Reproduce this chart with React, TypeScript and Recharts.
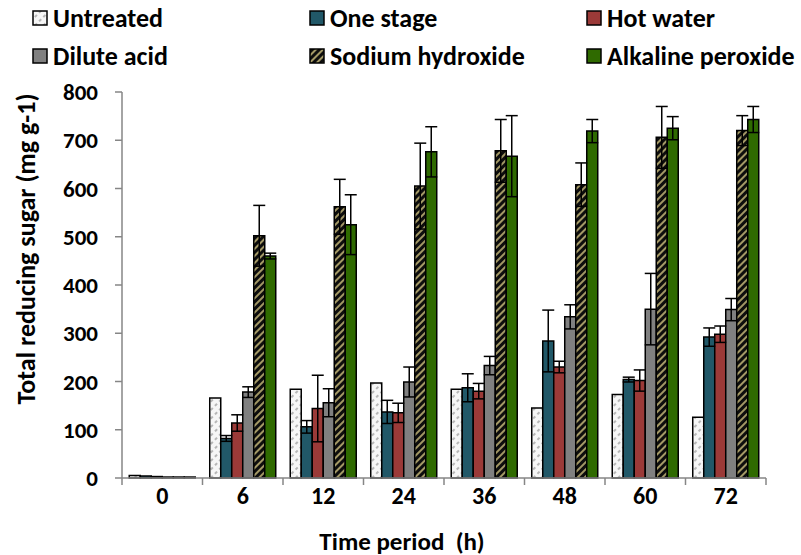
import { BarChart, Bar, XAxis, YAxis, ErrorBar } from "recharts";

const FONT = "Carlito, Calibri, Lato, sans-serif";

const CATEGORIES = ["0", "6", "12", "24", "36", "48", "60", "72"];
const Y_TICKS = [0, 100, 200, 300, 400, 500, 600, 700, 800];

const UNTREATED = [5, 166, 184, 197, 184, 145, 173, 126];
const ONE_STAGE = [4, 82, 106, 137, 187, 284, 204, 292];
const HOT_WATER = [3, 114, 144, 135, 180, 230, 202, 298];
const DILUTE_ACID = [2, 178, 156, 199, 233, 334, 350, 349];
const SODIUM_HYDROXIDE = [2, 502, 562, 605, 678, 608, 706, 720];
const ALKALINE_PEROXIDE = [2, 460, 525, 676, 667, 719, 725, 743];

const ONE_STAGE_ERR = [0, 6, 13, 24, 29, 64, 5, 19];
const HOT_WATER_ERR = [0, 17, 69, 20, 16, 12, 22, 17];
const DILUTE_ACID_ERR = [0, 11, 29, 31, 19, 25, 74, 23];
const SODIUM_HYDROXIDE_ERR = [0, 63, 57, 89, 65, 45, 64, 31];
const ALKALINE_PEROXIDE_ERR = [0, 6, 62, 52, 84, 24, 24, 27];

const data = CATEGORIES.map((time, i) => ({
  time,
  untreated: UNTREATED[i],
  oneStage: ONE_STAGE[i],
  oneStageErr: ONE_STAGE_ERR[i],
  hotWater: HOT_WATER[i],
  hotWaterErr: HOT_WATER_ERR[i],
  diluteAcid: DILUTE_ACID[i],
  diluteAcidErr: DILUTE_ACID_ERR[i],
  naoh: SODIUM_HYDROXIDE[i],
  naohErr: SODIUM_HYDROXIDE_ERR[i],
  ap: ALKALINE_PEROXIDE[i],
  apErr: ALKALINE_PEROXIDE_ERR[i],
}));

const SERIES = [
  { key: "untreated", name: "Untreated", fill: "url(#patUntreated)", err: null },
  { key: "oneStage", name: "One stage", fill: "#215868", err: "oneStageErr" },
  { key: "hotWater", name: "Hot water", fill: "#9b3a38", err: "hotWaterErr" },
  { key: "diluteAcid", name: "Dilute acid", fill: "#808080", err: "diluteAcidErr" },
  { key: "naoh", name: "Sodium hydroxide", fill: "url(#patNaoh)", err: "naohErr" },
  { key: "ap", name: "Alkaline peroxide", fill: "#2f6a00", err: "apErr" },
];

const W = 801;
const H = 555;
const MARGIN = { top: 92, right: 35, bottom: 0, left: 0 };
const Y_AXIS_W = 122;
const BAND = (W - MARGIN.left - MARGIN.right - Y_AXIS_W) / CATEGORIES.length;
const AXIS_GRAY = "#868686";

const LEGEND_X = [32, 309, 586];
const LEGEND_Y = [18, 56];

function XTick(props: any) {
  const { x, y, payload, index } = props;
  const last = index === CATEGORIES.length - 1;
  return (
    <g>
      <line x1={x - BAND / 2} x2={x - BAND / 2} y1={y} y2={y + 7} stroke={AXIS_GRAY} strokeWidth={1.5} />
      {last && <line x1={x + BAND / 2} x2={x + BAND / 2} y1={y} y2={y + 7} stroke={AXIS_GRAY} strokeWidth={1.5} />}
      <text x={x} y={y + 17} textAnchor="middle" dominantBaseline="central" fontFamily={FONT} fontWeight={700} fontSize={24} fill="#000">
        {payload.value}
      </text>
    </g>
  );
}

function XTitle() {
  return (
    <text x={402} y={541} textAnchor="middle" dominantBaseline="central" fontFamily={FONT} fontWeight={700} fontSize={25} fill="#000" style={{ whiteSpace: "pre" }}>
      Time period  (h)
    </text>
  );
}

function YTitle() {
  return (
    <text x={26} y={249} transform="rotate(-90 26 249)" textAnchor="middle" dominantBaseline="central" fontFamily={FONT} fontWeight={700} fontSize={26} fill="#000">
      Total reducing sugar (mg g-1)
    </text>
  );
}

export default function App() {
  return (
    <div style={{ position: "absolute", left: 0, top: 0, width: W, height: H, background: "#fff", fontFamily: FONT }}>
      <svg width={0} height={0} style={{ position: "absolute" }}>
        <defs>
          <pattern id="patUntreated" width={6} height={6} patternUnits="userSpaceOnUse" patternTransform="rotate(45)">
            <rect width={6} height={6} fill="#f6f6f6" />
            <line x1={1} y1={0} x2={1} y2={3} stroke="#8c8c8c" strokeWidth={1.2} />
          </pattern>
          <pattern id="patNaoh" width={5} height={5} patternUnits="userSpaceOnUse" patternTransform="rotate(45)">
            <rect width={5} height={5} fill="#0d0d0d" />
            <rect width={2} height={5} fill="#a39865" />
          </pattern>
        </defs>
      </svg>

      {SERIES.map((s, i) => (
        <div
          key={s.key}
          style={{
            position: "absolute",
            left: LEGEND_X[i % 3],
            top: LEGEND_Y[Math.floor(i / 3)] - 16,
            height: 32,
            display: "flex",
            alignItems: "center",
            whiteSpace: "nowrap",
          }}
        >
          <svg width={16} height={16} style={{ marginRight: 5 }}>
            <rect x={1} y={1} width={14} height={14} fill={s.fill} stroke="#000" strokeWidth={1.5} />
          </svg>
          <span style={{ fontSize: 26, fontWeight: 700, color: "#000", lineHeight: "32px" }}>{s.name}</span>
        </div>
      ))}

      <div style={{ position: "absolute", left: 0, top: 0 }}>
        <BarChart width={W} height={H} data={data} margin={MARGIN} barCategoryGap="9%" barGap={0}>
          <XAxis
            dataKey="time"
            height={H - MARGIN.top - 386}
            axisLine={{ stroke: AXIS_GRAY, strokeWidth: 1.5 }}
            tickLine={false}
            tickSize={0}
            tickMargin={0}
            tick={<XTick />}
            interval={0}
            label={<XTitle />}
          />
          <YAxis
            width={Y_AXIS_W}
            domain={[0, 800]}
            ticks={Y_TICKS}
            interval={0}
            axisLine={{ stroke: AXIS_GRAY, strokeWidth: 1.5 }}
            tickLine={{ stroke: AXIS_GRAY, strokeWidth: 1.5 }}
            tickSize={7}
            tickMargin={17}
            tick={{ fill: "#000", fontSize: 23, fontWeight: 700, fontFamily: FONT }}
            label={<YTitle />}
          />
          {SERIES.map((s) => (
            <Bar key={s.key} dataKey={s.key} name={s.name} fill={s.fill} stroke="#000" strokeWidth={1.5} isAnimationActive={false}>
              {s.err && <ErrorBar dataKey={s.err} stroke="#000" strokeWidth={1.5} width={6} />}
            </Bar>
          ))}
        </BarChart>
      </div>
    </div>
  );
}
